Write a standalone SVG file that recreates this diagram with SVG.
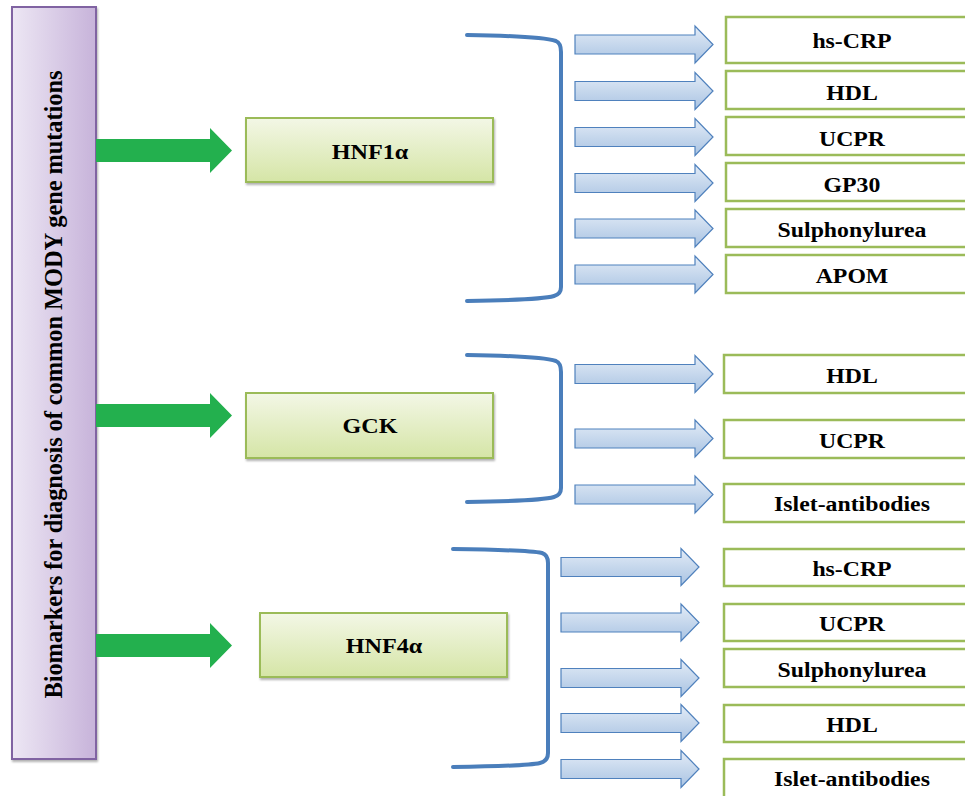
<svg xmlns="http://www.w3.org/2000/svg" width="965" height="796" viewBox="0 0 965 796">
  <defs>
    <linearGradient id="purpleFill" x1="0" y1="0" x2="1" y2="0">
      <stop offset="0" stop-color="#EDE7F4"/>
      <stop offset="1" stop-color="#C7B3DA"/>
    </linearGradient>
    <linearGradient id="limeFill" x1="0" y1="0" x2="0" y2="1">
      <stop offset="0" stop-color="#F3F7E6"/>
      <stop offset="1" stop-color="#D5E5A6"/>
    </linearGradient>
    <linearGradient id="blueFill" x1="0" y1="0" x2="0" y2="1">
      <stop offset="0" stop-color="#E3ECF7"/>
      <stop offset="1" stop-color="#A9C3E2"/>
    </linearGradient>
    <filter id="shadow" x="-10%" y="-10%" width="130%" height="140%">
      <feDropShadow dx="1" dy="2" stdDeviation="1.2" flood-color="#000" flood-opacity="0.3"/>
    </filter>
    <!-- block arrow shapes, origin at the tail centre -->
    <path id="greenArrow" d="M0,-11.5 H114 V-22.5 L136,0 L114,22.5 V11.5 H0 Z" fill="#23B04E"/>
    <path id="blueArrow" d="M0,-9.5 H120 V-18.5 L138,0 L120,18.5 V9.5 H0 Z"/>
  </defs>
  <style>
    .lbl { font-family: "Liberation Serif", "Times New Roman", serif; font-weight: bold; fill: #000; text-anchor: middle; }
    .gene { fill: url(#limeFill); stroke: #9BBB59; stroke-width: 2; filter: url(#shadow); }
    .marker { fill: #fff; stroke: #9BBB59; stroke-width: 2.5; }
    .brace { fill: none; stroke: #4A7EBB; stroke-width: 4; stroke-linecap: round; }
    .barrow { fill: url(#blueFill); stroke: #4F81BD; stroke-width: 1.2; }
  </style>

  <rect width="965" height="796" fill="#fff"/>

  <!-- title column -->
  <g id="title">
    <rect x="12" y="7" width="84" height="752" fill="url(#purpleFill)" stroke="#8064A2" stroke-width="2" filter="url(#shadow)"/>
    <text class="lbl" font-size="24.5" textLength="628" lengthAdjust="spacing" transform="translate(62,384.5) rotate(-90)">Biomarkers for diagnosis of common MODY gene mutations</text>
  </g>

  <!-- gene nodes -->
  <g id="hnf1a">
    <rect class="gene" x="246" y="118" width="247" height="64"/>
    <text class="lbl" font-size="21" transform="translate(370,159) scale(1.15,1)">HNF1α</text>
  </g>
  <g id="gck">
    <rect class="gene" x="246" y="393" width="247" height="65"/>
    <text class="lbl" font-size="21" transform="translate(370,433) scale(1.15,1)">GCK</text>
  </g>
  <g id="hnf4a">
    <rect class="gene" x="260" y="613" width="247" height="64"/>
    <text class="lbl" font-size="21" transform="translate(384,653) scale(1.15,1)">HNF4α</text>
  </g>

  <!-- biomarker nodes, HNF1α -->
  <g id="m1-hscrp"><rect class="marker" x="726" y="17" width="260" height="46"/><text class="lbl" font-size="20.5" transform="translate(852,48) scale(1.16,1)">hs-CRP</text></g>
  <g id="m1-hdl"><rect class="marker" x="726" y="71" width="260" height="38"/><text class="lbl" font-size="20.5" transform="translate(852,100) scale(1.16,1)">HDL</text></g>
  <g id="m1-ucpr"><rect class="marker" x="726" y="117" width="260" height="38"/><text class="lbl" font-size="20.5" transform="translate(852,146) scale(1.16,1)">UCPR</text></g>
  <g id="m1-gp30"><rect class="marker" x="726" y="163" width="260" height="38"/><text class="lbl" font-size="20.5" transform="translate(852,192) scale(1.16,1)">GP30</text></g>
  <g id="m1-sulph"><rect class="marker" x="726" y="209" width="260" height="38"/><text class="lbl" font-size="20.5" transform="translate(852,237) scale(1.16,1)">Sulphonylurea</text></g>
  <g id="m1-apom"><rect class="marker" x="726" y="255" width="260" height="38"/><text class="lbl" font-size="20.5" transform="translate(852,283) scale(1.16,1)">APOM</text></g>

  <!-- biomarker nodes, GCK -->
  <g id="m2-hdl"><rect class="marker" x="724" y="355" width="260" height="38"/><text class="lbl" font-size="20.5" transform="translate(852,383) scale(1.16,1)">HDL</text></g>
  <g id="m2-ucpr"><rect class="marker" x="724" y="420" width="260" height="38"/><text class="lbl" font-size="20.5" transform="translate(852,448) scale(1.16,1)">UCPR</text></g>
  <g id="m2-islet"><rect class="marker" x="724" y="484" width="260" height="38"/><text class="lbl" font-size="20.5" transform="translate(852,511) scale(1.16,1)">Islet-antibodies</text></g>

  <!-- biomarker nodes, HNF4α -->
  <g id="m3-hscrp"><rect class="marker" x="724" y="549" width="260" height="37"/><text class="lbl" font-size="20.5" transform="translate(852,576) scale(1.16,1)">hs-CRP</text></g>
  <g id="m3-ucpr"><rect class="marker" x="724" y="604" width="260" height="37"/><text class="lbl" font-size="20.5" transform="translate(852,631) scale(1.16,1)">UCPR</text></g>
  <g id="m3-sulph"><rect class="marker" x="724" y="649" width="260" height="38"/><text class="lbl" font-size="20.5" transform="translate(852,677) scale(1.16,1)">Sulphonylurea</text></g>
  <g id="m3-hdl"><rect class="marker" x="724" y="705" width="260" height="37"/><text class="lbl" font-size="20.5" transform="translate(852,732) scale(1.16,1)">HDL</text></g>
  <g id="m3-islet"><rect class="marker" x="724" y="759" width="260" height="45"/><text class="lbl" font-size="20.5" transform="translate(852,786) scale(1.16,1)">Islet-antibodies</text></g>

  <!-- connectors -->
  <g id="connectors">
    <!-- title to genes -->
    <use href="#greenArrow" transform="translate(96,150.5)"/>
    <use href="#greenArrow" transform="translate(96,415.5)"/>
    <use href="#greenArrow" transform="translate(96,645.5)"/>

    <!-- braces gathering each gene's biomarkers -->
    <path class="brace" d="M467,35 Q540,36 556,41 Q561,43 561,52 V287 Q561,294 554,296 Q540,300 467,301"/>
    <path class="brace" d="M467,355 Q540,356 556,361 Q561,363 561,372 V488 Q561,495 554,497 Q540,501 467,502"/>
    <path class="brace" d="M453,549 Q527,550 542,553 Q548,555 548,563 V753 Q548,761 540,763 Q527,766 453,767"/>

    <!-- brace to biomarkers -->
    <use class="barrow" href="#blueArrow" transform="translate(575,44.5)"/>
    <use class="barrow" href="#blueArrow" transform="translate(575,91)"/>
    <use class="barrow" href="#blueArrow" transform="translate(575,137)"/>
    <use class="barrow" href="#blueArrow" transform="translate(575,183)"/>
    <use class="barrow" href="#blueArrow" transform="translate(575,228.5)"/>
    <use class="barrow" href="#blueArrow" transform="translate(575,274.5)"/>

    <use class="barrow" href="#blueArrow" transform="translate(575,374)"/>
    <use class="barrow" href="#blueArrow" transform="translate(575,438.5)"/>
    <use class="barrow" href="#blueArrow" transform="translate(575,494.5)"/>

    <use class="barrow" href="#blueArrow" transform="translate(561,567)"/>
    <use class="barrow" href="#blueArrow" transform="translate(561,622.5)"/>
    <use class="barrow" href="#blueArrow" transform="translate(561,678)"/>
    <use class="barrow" href="#blueArrow" transform="translate(561,723)"/>
    <use class="barrow" href="#blueArrow" transform="translate(561,769)"/>
  </g>
</svg>
